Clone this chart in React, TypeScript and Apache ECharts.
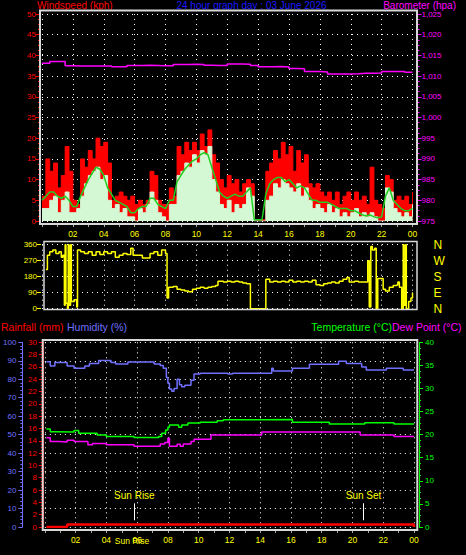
import React, { useEffect, useRef } from "react";
import * as echarts from "echarts";

// ---------- DATA ----------
const windTimes = [
  0, 0.25, 0.5, 0.75, 1, 1.25, 1.5, 1.75, 2, 2.25, 2.5, 2.75, 3, 3.25, 3.5, 3.75,
  4, 4.25, 4.5, 4.75, 5, 5.25, 5.5, 5.75, 6, 6.25, 6.5, 6.75, 7, 7.25, 7.5, 7.75,
  8, 8.25, 8.5, 8.75, 9, 9.25, 9.5, 9.75, 10, 10.25, 10.5, 10.75, 11, 11.25, 11.5, 11.75,
  12, 12.25, 12.5, 12.75, 13, 13.25, 13.5, 13.75, 14, 14.25, 14.5, 14.75, 15, 15.25, 15.5, 15.75,
  16, 16.25, 16.5, 16.75, 17, 17.25, 17.5, 17.75, 18, 18.25, 18.5, 18.75, 19, 19.25, 19.5, 19.75,
  20, 20.25, 20.5, 20.75, 21, 21.25, 21.5, 21.75, 22, 22.25, 22.5, 22.75, 23, 23.25, 23.5, 23.75,
  24,
];
const windGust = [
  6, 15, 12, 14, 8, 11, 18, 12,
  5, 4, 15, 13, 17, 15, 20, 18,
  19, 14, 5, 6, 7, 6, 5, 6,
  4, 5, 4, 5, 12, 11, 5, 4,
  4, 8, 6, 18, 16, 19, 17, 19,
  17, 21, 18, 22, 16, 14, 10, 8,
  11, 9, 10, 7, 9, 10, 9, 0.3,
  0.3, 0.3, 12, 14, 17, 15, 19, 16,
  18, 12, 17, 14, 16, 9, 8, 9,
  7, 6, 7, 5, 7, 4, 6, 7,
  5, 7, 5, 6, 4, 13, 5, 4,
  3, 11, 10, 5, 6, 5, 6, 4,
  7,
];
const windSpeed = [
  3, 3, 5, 6, 2, 5, 7, 2,
  2, 3, 6, 9, 11, 12, 13, 10,
  11, 5, 3, 4, 2, 3, 1, 1,
  0, 3, 2, 4, 7, 5, 2, 1,
  0, 4, 4, 11, 12, 14, 13, 16,
  14, 17, 16, 18, 10, 7, 4, 3,
  5, 2, 4, 3, 4, 8, 6, 0,
  0, 0, 5, 6, 9, 8, 10, 9,
  8, 7, 9, 6, 8, 5, 3, 4,
  3, 2, 4, 2, 3, 1, 2, 1,
  2, 3, 1, 2, 1, 2, 1, 0,
  0, 8, 7, 3, 2, 1, 2, 1,
  4,
];
const windAvg = [
  5, 6, 7, 7, 6, 5.5, 6, 5,
  3.5, 3.5, 6, 8, 10, 11.5, 13, 12.5,
  11, 8, 6.5, 5, 4.5, 4, 3.5, 2,
  2, 3, 3.5, 3.5, 5.5, 5.5, 4, 3.5,
  3, 5, 5, 9.5, 11, 12.5, 13.5, 14.5,
  15, 16, 16.5, 16, 13, 10, 7, 6,
  5.5, 6, 6.5, 6, 6, 7, 8, 0.3,
  0.3, 0.3, 6.5, 9, 10, 10.5, 10.5, 9.5,
  10, 9, 8, 8.5, 8, 6.5, 5, 5,
  4.5, 4.5, 4.5, 4, 3.5, 3, 3, 3,
  2.5, 2.5, 2, 1.5, 1.2, 1.5, 1, 0.8,
  1, 6, 8, 5, 4, 3, 2.5, 2.5,
  3,
];

const baroTimes = [
  0, 0.5, 1, 1.5, 2, 2.5, 3, 3.5, 4, 4.5, 5, 5.5, 6, 6.5, 7, 7.5, 8, 8.5, 9, 9.5,
  10, 10.5, 11, 11.5, 12, 12.5, 13, 13.5, 14, 14.5, 15, 15.5, 16, 16.5, 17, 17.5,
  18, 18.5, 19, 19.5, 20, 20.5, 21, 21.5, 22, 22.5, 23, 23.5, 24,
];
const baroValues = [
  1013.1, 1013.5, 1013.5, 1012.5, 1012.45, 1012.45, 1012.45, 1012.45, 1012.45, 1012.26,
  1012.26, 1012.55, 1012.57, 1012.6, 1012.57, 1012.5, 1012.5, 1012.8, 1012.8, 1012.85,
  1012.8, 1012.6, 1012.57, 1012.57, 1012.9, 1012.9, 1012.85, 1012.55, 1012.26, 1012.26,
  1012.3, 1012.2, 1011.85, 1011.8, 1011.1, 1011.1, 1011.0, 1010.5, 1010.5, 1010.5,
  1010.55, 1010.7, 1010.7, 1010.75, 1011.1, 1011.1, 1011.1, 1010.9, 1010.9,
];

const dirTimes = [
  0.25, 0.35, 0.5, 0.7, 0.9, 1.1, 1.25, 1.35, 1.45, 1.5, 1.55, 1.65, 1.7, 1.75, 1.85, 1.9,
  2.1, 2.25, 2.3, 2.5, 2.75, 3, 3.25, 3.5, 3.75, 4, 4.25, 4.5, 4.75, 5, 5.25, 5.5,
  5.75, 5.9, 6.25, 6.5, 7, 7.25, 7.5, 7.75, 8, 8.1, 8.2, 8.5, 8.75, 9, 9.25, 9.5,
  9.75, 10, 10.25, 10.5, 10.75, 11, 11.25, 11.4, 11.75, 12, 12.25, 12.5, 12.75, 13, 13.25, 13.5,
  14, 14.45, 14.5, 14.75, 15, 15.25, 15.5, 15.75, 16, 16.25, 16.5, 16.75, 17, 17.25, 17.5, 17.75,
  18, 18.25, 18.5, 18.75, 19, 19.25, 19.5, 19.75, 19.9, 20.25, 20.5, 20.75, 21, 21.1, 21.2, 21.3,
  21.4, 21.55, 21.65, 21.75, 22, 22.1, 22.25, 22.5, 22.75, 23, 23.05, 23.15, 23.3, 23.4, 23.45, 23.55,
  23.6, 23.75, 23.9, 24,
];
const dirValues = [
  220, 300, 320, 330, 310, 320, 290, 300, 20, 360, 30, 0, 360, 20, 360, 40,
  50, 10, 330, 320, 310, 320, 300, 320, 305, 320, 310, 320, 290, 300, 310, 305,
  340, 300, 300, 285, 310, 320, 300, 330, 310, 60, 120, 125, 110, 105, 100, 95,
  110, 115, 120, 115, 120, 125, 130, 155, 150, 155, 150, 155, 150, 145, 140, 0,
  0, 0, 165, 150, 155, 150, 155, 150, 160, 150, 155, 150, 155, 150, 160, 135,
  130, 140, 145, 150, 145, 155, 165, 175, 150, 155, 150, 150, 150, 270, 10, 350,
  330, 340, 0, 170, 170, 110, 100, 120, 130, 135, 150, 120, 0, 360, 20, 360,
  0, 40, 60, 90,
];

const humTimes = [
  0.1, 0.35, 0.65, 1.45, 1.9, 2.6, 2.9, 3.5, 4.3, 4.6, 5.4, 7.1, 7.5, 7.7, 7.9, 8.0,
  8.1, 8.25, 8.4, 8.6, 8.75, 8.9, 9.1, 9.5, 9.7, 10.1, 11.9, 12.2, 14.75, 14.85, 16.1, 17.2,
  19.1, 19.6, 20.6, 20.9, 22.2, 23.3, 24,
];
const humValues = [
  89.5, 87.2, 89.0, 87.2, 85.9, 87.2, 88.5, 90.1, 89.0, 88.2, 89.3, 88.3, 87.5, 86.0, 81, 77.8,
  74.7, 73.5, 75, 80, 77, 76, 76.7, 79.5, 82.8, 83.2, 82.8, 83.2, 86, 84.5, 86, 88.1,
  89.8, 88.5, 86.6, 85, 86, 85, 85,
];

const tempTimes = [
  0.1, 0.35, 0.65, 1.9, 2.2, 3.4, 4.0, 5.8, 7.4, 7.6, 7.85, 8.0, 8.1, 8.7, 8.9, 9.3,
  10.1, 11.2, 11.6, 14.0, 16.1, 18.5, 20.8, 22.7, 24,
];
const tempValues = [
  21.2, 20.65, 20.6, 20.9, 20.3, 19.9, 19.6, 19.4, 19.6, 20.3, 21.0, 21.6, 22.1, 21.6, 22.1, 22.5,
  22.7, 23.0, 23.2, 23.3, 22.7, 22.3, 22.6, 22.3, 22.3,
];

const dewTimes = [
  0.1, 0.35, 0.9, 1.45, 1.9, 2.8, 3.1, 4.0, 5.8, 7.5, 7.8, 8.0, 8.1, 8.6, 8.8, 9.0,
  9.5, 9.7, 10.8, 14.1, 20.5, 22.7, 24,
];
const dewValues = [
  19.35, 18.5, 18.4, 18.8, 18.5, 17.8, 18.1, 17.8, 17.5, 18.0, 18.3, 19.2, 17.5, 17.9, 17.5, 18.0,
  18.5, 19.0, 19.9, 20.6, 19.9, 19.6, 19.6,
];

const rainTimes = [0.1, 1.45, 23.85, 24];
const rainValues = [0, 0.4, 0.4, 0];

const sunRise = 5.82;
const sunSet = 20.72;

const compassLabels: Record<number, string> = { 0: "N", 90: "E", 180: "S", 270: "W", 360: "N" };

const titleText = "24 hour graph day : 03 June 2026";

// ---------- HELPERS ----------
const zip = (t: number[], v: number[]) => t.map((x, i) => [x, v[i]]);
const hourLabel = (v: number) => {
  if (v === 0) return "";
  const h = Math.round(v) % 24;
  return h < 10 ? "0" + h : "" + h;
};

const FONT = "Liberation Sans, Arial, sans-serif";
const TF = `10.5px ${FONT}`;
const TOPF = `10px ${FONT}`;
const dotted = { show: true, lineStyle: { color: "#ffffff", type: [1, 4] as any, width: 1 } };

function makeX(gridIndex: number, showLabels: boolean) {
  return {
    type: "value",
    gridIndex,
    min: 0,
    max: 24,
    interval: 2,
    offset: 3,
    axisLine: { show: false, onZero: false },
    axisTick: { show: showLabels, length: 3, lineStyle: { color: "#aaaaaa" } },
    minorTick: { show: showLabels, splitNumber: 2, length: 3, lineStyle: { color: "#aaaaaa" } },
    axisLabel: {
      show: showLabels,
      color: "#ffff00",
      fontSize: 8.5,
      fontFamily: FONT,
      margin: 5,
      showMaxLabel: true,
      formatter: hourLabel,
    },
    splitLine: dotted,
  };
}

function makeY(o: any) {
  const { color, minorSplit, line, labelMargin, ...rest } = o;
  return {
    type: "value",
    axisLine: { show: !!line, onZero: false, lineStyle: { color, width: 1 } },
    axisTick: { show: true, length: 4, lineStyle: { color } },
    minorTick: { show: !!minorSplit, splitNumber: minorSplit || 5, length: 2, lineStyle: { color } },
    axisLabel: { color, fontSize: 8, fontFamily: FONT, margin: labelMargin ?? 4 },
    splitLine: { show: false },
    ...rest,
  };
}

export default function App() {
  const ref = useRef<HTMLDivElement>(null);

  useEffect(() => {
    if (!ref.current) return;
    const chart = echarts.init(ref.current, undefined, { renderer: "svg" });

    const option: any = {
      animation: false,
      backgroundColor: "#000000",
      textStyle: { fontFamily: FONT },
      grid: [
        { left: 42, top: 14, width: 370.5, height: 207 },
        { left: 42, top: 244.7, width: 370.5, height: 64 },
        { left: 43.5, top: 342.3, width: 370.5, height: 184.7 },
      ],
      xAxis: [makeX(0, true), makeX(1, false), makeX(2, true)],
      yAxis: [
        makeY({ gridIndex: 0, position: "left", min: 0, max: 50, interval: 5, offset: 2, color: "#ff0000", minorSplit: 4, splitLine: dotted }),
        makeY({ gridIndex: 0, position: "right", min: 975, max: 1025, interval: 5, offset: 5, color: "#ff00ff", minorSplit: 4 }),
        makeY({ gridIndex: 1, position: "left", min: 0, max: 360, interval: 90, offset: 1, color: "#ffff00", splitLine: dotted }),
        {
          type: "value", gridIndex: 1, position: "right", min: 0, max: 360, interval: 90,
          axisLine: { show: false, onZero: false },
          axisTick: { show: false },
          axisLabel: {
            color: "#ffff00", fontSize: 12, fontFamily: FONT, margin: 21,
            formatter: (v: number) => compassLabels[v] ?? "",
          },
          splitLine: { show: false },
        },
        makeY({ gridIndex: 2, position: "left", min: 0, max: 100, interval: 10, offset: 22.5, color: "#7070ff", minorSplit: 5, line: true, labelMargin: 6, splitLine: dotted }),
        makeY({ gridIndex: 2, position: "left", min: 0, max: 30, interval: 2, offset: 2, color: "#ff0000", minorSplit: 4, line: true, labelMargin: 6 }),
        makeY({ gridIndex: 2, position: "right", min: 0, max: 40, interval: 5, offset: 5, color: "#00ff00", minorSplit: 4, line: true, labelMargin: 6 }),
      ],
      series: [
        {
          name: "Gust", type: "line", xAxisIndex: 0, yAxisIndex: 0, step: "end", symbol: "none",
          lineStyle: { color: "#ff0000", width: 1 }, areaStyle: { color: "#ff0000", opacity: 1 },
          data: zip(windTimes, windGust), z: 2,
        },
        {
          name: "Speed", type: "line", xAxisIndex: 0, yAxisIndex: 0, step: "end", symbol: "none",
          lineStyle: { color: "#d4f8d4", width: 1 }, areaStyle: { color: "#d4f8d4", opacity: 1 },
          data: zip(windTimes, windSpeed), z: 3,
        },
        {
          name: "Average", type: "line", xAxisIndex: 0, yAxisIndex: 0, symbol: "none",
          lineStyle: { color: "#20d020", width: 1.5 },
          data: zip(windTimes, windAvg), z: 4,
        },
        {
          name: "Barometer", type: "line", xAxisIndex: 0, yAxisIndex: 1, step: "end", symbol: "none",
          lineStyle: { color: "#ff00ff", width: 1.5 },
          data: zip(baroTimes, baroValues), z: 5,
        },
        {
          name: "Direction", type: "line", xAxisIndex: 1, yAxisIndex: 2, step: "end", symbol: "none",
          lineStyle: { color: "#ffff00", width: 1.5 },
          data: zip(dirTimes, dirValues),
        },
        {
          name: "Humidity", type: "line", xAxisIndex: 2, yAxisIndex: 4, step: "end", symbol: "none",
          lineStyle: { color: "#7070ff", width: 1.5 },
          data: zip(humTimes, humValues),
        },
        {
          name: "Temperature", type: "line", xAxisIndex: 2, yAxisIndex: 6, step: "end", symbol: "none",
          lineStyle: { color: "#00ff00", width: 1.5 },
          data: zip(tempTimes, tempValues),
        },
        {
          name: "Dew Point", type: "line", xAxisIndex: 2, yAxisIndex: 6, step: "end", symbol: "none",
          lineStyle: { color: "#ff00ff", width: 1.5 },
          data: zip(dewTimes, dewValues),
        },
        {
          name: "Rainfall", type: "line", xAxisIndex: 2, yAxisIndex: 5, step: "end", symbol: "none",
          lineStyle: { color: "#ff0000", width: 2.5 },
          data: zip(rainTimes, rainValues),
          markLine: {
            symbol: "none",
            silent: true,
            data: [
              [
                { coord: [sunRise, 3.85], lineStyle: { color: "#ffffff", type: "solid", width: 1 },
                  label: { show: true, position: "start", formatter: "Sun Rise", color: "#ffff00", fontSize: 10, fontFamily: FONT, distance: 3 } },
                { coord: [sunRise, 1.1] },
              ],
              [
                { coord: [sunRise, 1.1], lineStyle: { color: "#ffff00", type: [1, 2], width: 1 }, label: { show: false } },
                { coord: [sunRise, -0.45] },
              ],
              [
                { coord: [sunSet, 3.85], lineStyle: { color: "#ffffff", type: "solid", width: 1 },
                  label: { show: true, position: "start", formatter: "Sun Set", color: "#ffff00", fontSize: 10, fontFamily: FONT, distance: 3 } },
                { coord: [sunSet, 1.1] },
              ],
              [
                { coord: [sunSet, 1.1], lineStyle: { color: "#ffff00", type: [1, 2], width: 1 }, label: { show: false } },
                { coord: [sunSet, -0.45] },
              ],
            ],
          },
        },
      ],
      graphic: [
        { type: "rect", shape: { x: 40, y: 10.5, width: 377, height: 213.5 }, style: { fill: "none", stroke: "#d8d8d8", lineWidth: 2 }, z: 10, silent: true },
        { type: "rect", shape: { x: 44, y: 241.5, width: 373, height: 68 }, style: { fill: "none", stroke: "#d8d8d8", lineWidth: 1.5 }, z: 10, silent: true },
        { type: "rect", shape: { x: 42.7, y: 340, width: 374.6, height: 190 }, style: { fill: "none", stroke: "#d8d8d8", lineWidth: 2 }, z: 10, silent: true },
        { type: "text", x: 37, y: 5, style: { text: "Windspeed (kph)", fill: "#ff0000", font: TOPF, textVerticalAlign: "middle" } },
        { type: "text", x: 251.5, y: 5, style: { text: titleText, fill: "#1a1aff", font: TOPF, textAlign: "center", textVerticalAlign: "middle" } },
        { type: "text", x: 456, y: 5, style: { text: "Barometer (hpa)", fill: "#ff00ff", font: TOPF, textAlign: "right", textVerticalAlign: "middle" } },
        { type: "text", x: 1, y: 327, style: { text: "Rainfall (mm)", fill: "#ff0000", font: TF, textVerticalAlign: "middle" } },
        { type: "text", x: 67, y: 327, style: { text: "Humidity (%)", fill: "#7070ff", font: TF, textVerticalAlign: "middle" } },
        { type: "text", x: 392, y: 327, style: { text: "Temperature (°C)", fill: "#00ff00", font: TF, textAlign: "right", textVerticalAlign: "middle" } },
        { type: "text", x: 392, y: 327, style: { text: "Dew Point (°C)", fill: "#ff00ff", font: TF, textVerticalAlign: "middle" } },
        { type: "text", x: 132, y: 541, style: { text: "Sun Rise", fill: "#ffff00", font: `8.5px ${FONT}`, textAlign: "center", textVerticalAlign: "middle" } },
      ],
    };

    chart.setOption(option);
    return () => chart.dispose();
  }, []);

  return (
    <div
      ref={ref}
      style={{ position: "fixed", left: 0, top: 0, width: 466, height: 555, background: "#000" }}
    />
  );
}
